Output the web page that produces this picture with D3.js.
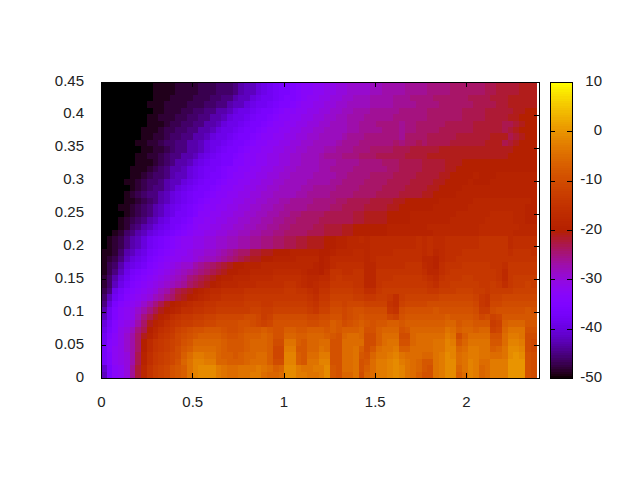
<!DOCTYPE html>
<html><head><meta charset="utf-8">
<script src="https://cdn.jsdelivr.net/npm/d3@7"></script>
<style>html,body{margin:0;padding:0;background:#fff}svg{display:block}text{font-family:"Liberation Sans",Arial,sans-serif;font-size:15px;fill:#222}</style>
</head><body><svg id="c" width="640" height="480"></svg>
<script>
const xTicks=[0,0.5,1,1.5,2];
const yTicks=[0,0.05,0.1,0.15,0.2,0.25,0.3,0.35,0.4,0.45];
const cbTicks=[-50,-40,-30,-20,-10,0,10];
const xMax=2.4,yMax=0.45,dataXMax=2.385,cMin=-50,cMax=10;
// heat values, top row first
const grid=[
[-50,-50,-50,-50,-50,-50,-50,-50,-50,-49, -49,-49,-49,-48,-48,-48,-48,-47,-47,-47, -46,-46,-46,-45,-43,-42,-42,-40,-39,-38, -37,-36,-36,-35,-34,-33,-33,-32,-32,-31, -31,-30,-30,-29,-29,-29,-29,-28,-28,-27, -27,-27,-27,-26,-26,-26,-26,-25,-25,-25, -25,-24,-24,-24,-24,-24,-24,-23,-23,-22, -22,-22,-22,-21,-21,-21],
[-50,-50,-50,-50,-50,-50,-50,-50,-50,-49, -49,-49,-49,-48,-48,-48,-48,-47,-47,-47, -46,-46,-46,-45,-43,-42,-42,-40,-39,-38, -37,-36,-36,-35,-34,-33,-33,-32,-32,-31, -31,-30,-30,-29,-29,-29,-29,-28,-28,-27, -27,-27,-27,-26,-26,-26,-26,-25,-25,-25, -25,-24,-24,-24,-24,-24,-24,-23,-23,-22, -22,-22,-22,-21,-21,-21],
[-50,-50,-50,-50,-50,-50,-50,-50,-50,-49, -49,-49,-48,-48,-48,-48,-47,-47,-47,-46, -46,-45,-45,-43,-42,-42,-40,-39,-38,-38, -37,-36,-35,-35,-34,-33,-32,-32,-31,-31, -30,-30,-29,-29,-28,-28,-28,-27,-27,-27, -27,-26,-26,-26,-25,-25,-25,-25,-24,-24, -24,-24,-24,-24,-23,-23,-23,-23,-22,-22, -22,-21,-21,-21,-21,-21],
[-50,-50,-50,-50,-50,-50,-50,-50,-49,-49, -49,-48,-48,-48,-48,-47,-47,-47,-46,-46, -45,-45,-43,-42,-42,-40,-39,-38,-38,-37, -36,-35,-35,-34,-33,-32,-32,-31,-31,-30, -30,-29,-29,-28,-28,-28,-28,-27,-27,-27, -27,-26,-26,-26,-26,-25,-25,-25,-25,-24, -24,-24,-24,-24,-24,-23,-23,-23,-23,-22, -22,-21,-21,-21,-21,-21],
[-50,-50,-50,-50,-50,-50,-50,-50,-50,-49, -49,-48,-48,-48,-47,-47,-46,-46,-45,-45, -43,-43,-42,-40,-39,-39,-38,-37,-36,-36, -35,-34,-33,-33,-32,-32,-31,-31,-30,-30, -29,-29,-28,-28,-27,-27,-27,-26,-26,-26, -26,-26,-25,-25,-25,-25,-25,-24,-24,-24, -24,-24,-24,-23,-23,-23,-23,-22,-22,-22, -22,-22,-21,-21,-20,-20],
[-50,-50,-50,-50,-50,-50,-50,-50,-49,-49, -48,-48,-48,-47,-47,-46,-46,-45,-45,-43, -43,-42,-40,-39,-39,-38,-37,-36,-36,-35, -34,-33,-33,-32,-32,-31,-31,-30,-30,-29, -29,-28,-28,-27,-27,-27,-26,-26,-26,-26, -26,-25,-25,-25,-25,-25,-25,-24,-24,-24, -24,-24,-24,-23,-23,-23,-23,-22,-22,-22, -22,-21,-21,-20,-20,-20],
[-50,-50,-50,-50,-50,-50,-50,-50,-49,-49, -49,-48,-47,-47,-46,-46,-45,-45,-43,-43, -42,-40,-39,-39,-38,-37,-36,-36,-35,-34, -33,-33,-32,-32,-31,-31,-30,-30,-29,-29, -28,-28,-28,-27,-27,-26,-26,-26,-25,-25, -25,-25,-26,-25,-25,-24,-24,-24,-24,-24, -23,-23,-23,-23,-23,-22,-22,-22,-22,-22, -23,-23,-22,-21,-20,-20],
[-50,-50,-50,-50,-50,-50,-50,-49,-49,-49, -48,-47,-47,-46,-46,-45,-45,-43,-43,-42, -40,-39,-39,-38,-37,-36,-36,-35,-34,-33, -33,-32,-32,-31,-31,-30,-30,-29,-29,-28, -28,-28,-28,-27,-27,-26,-26,-26,-26,-25, -25,-25,-26,-25,-25,-24,-24,-24,-24,-23, -23,-23,-23,-23,-23,-22,-22,-22,-22,-22, -23,-22,-21,-20,-20,-20],
[-50,-50,-50,-50,-50,-50,-50,-49,-49,-48, -48,-47,-46,-46,-45,-45,-43,-43,-42,-40, -39,-39,-38,-37,-36,-36,-35,-34,-33,-33, -32,-32,-31,-31,-30,-30,-29,-29,-28,-28, -28,-28,-27,-26,-26,-26,-25,-25,-25,-25, -25,-25,-26,-24,-24,-24,-24,-23,-23,-23, -23,-23,-22,-22,-22,-22,-22,-22,-21,-21, -21,-23,-22,-21,-20,-20],
[-50,-50,-50,-50,-50,-50,-49,-49,-48,-48, -47,-46,-46,-45,-45,-43,-43,-42,-40,-39, -39,-38,-37,-36,-36,-35,-34,-33,-33,-32, -32,-31,-31,-30,-30,-29,-29,-28,-28,-28, -28,-27,-26,-26,-26,-25,-25,-25,-25,-25, -25,-24,-25,-24,-24,-23,-24,-23,-23,-23, -23,-22,-22,-22,-22,-22,-22,-21,-21,-21, -23,-22,-21,-20,-20,-20],
[-50,-50,-50,-50,-50,-50,-50,-49,-49,-48, -48,-47,-46,-45,-45,-43,-43,-42,-40,-39, -38,-37,-36,-36,-35,-34,-33,-33,-32,-32, -31,-31,-30,-30,-29,-29,-28,-28,-28,-27, -27,-26,-26,-26,-25,-25,-25,-24,-24,-24, -24,-23,-23,-23,-22,-22,-22,-22,-22,-21, -21,-21,-21,-21,-21,-21,-21,-21,-21,-21, -21,-21,-20,-20,-20,-20],
[-50,-50,-50,-50,-50,-50,-49,-49,-48,-48, -47,-46,-45,-45,-43,-43,-42,-40,-39,-38, -37,-36,-36,-35,-34,-33,-33,-32,-32,-31, -31,-30,-30,-29,-29,-28,-28,-28,-27,-26, -26,-26,-25,-25,-25,-24,-24,-24,-23,-23, -23,-23,-23,-22,-22,-22,-22,-21,-21,-21, -21,-21,-21,-21,-21,-21,-21,-21,-21,-21, -21,-20,-20,-20,-20,-20],
[-50,-50,-50,-50,-50,-50,-49,-49,-49,-48, -47,-46,-45,-43,-43,-42,-40,-39,-38,-37, -37,-36,-36,-34,-34,-33,-33,-32,-32,-31, -31,-30,-30,-29,-29,-28,-28,-28,-27,-27, -27,-26,-26,-26,-26,-25,-25,-25,-25,-24, -24,-24,-23,-23,-23,-23,-22,-22,-22,-22, -21,-21,-21,-20,-20,-20,-20,-20,-20,-20, -20,-20,-20,-20,-20,-20],
[-50,-50,-50,-50,-50,-49,-49,-49,-48,-47, -46,-45,-43,-43,-42,-40,-39,-38,-37,-37, -36,-35,-34,-34,-33,-33,-32,-32,-31,-31, -30,-30,-29,-29,-28,-28,-28,-28,-27,-27, -26,-26,-26,-26,-25,-25,-25,-25,-25,-25, -24,-24,-23,-23,-23,-23,-22,-22,-22,-22, -21,-21,-20,-20,-20,-20,-20,-20,-20,-20, -20,-20,-20,-20,-20,-20],
[-50,-50,-50,-50,-50,-49,-49,-48,-47,-46, -46,-45,-43,-42,-42,-40,-39,-38,-37,-36, -36,-35,-34,-33,-33,-32,-32,-31,-31,-30, -30,-29,-29,-28,-28,-28,-28,-27,-27,-27, -27,-26,-26,-25,-25,-25,-25,-24,-24,-24, -24,-23,-23,-23,-23,-22,-22,-22,-22,-21, -21,-20,-20,-20,-20,-19,-20,-20,-20,-19, -19,-19,-19,-19,-19,-19],
[-50,-50,-50,-50,-49,-49,-48,-47,-46,-46, -45,-43,-42,-42,-40,-39,-38,-37,-36,-36, -35,-34,-33,-33,-32,-32,-31,-31,-30,-30, -29,-29,-28,-28,-28,-28,-27,-27,-27,-27, -26,-26,-25,-25,-25,-25,-24,-24,-24,-24, -23,-23,-23,-23,-22,-22,-22,-22,-21,-21, -20,-20,-20,-20,-19,-20,-20,-20,-19,-19, -19,-19,-19,-19,-19,-19],
[-50,-50,-50,-50,-50,-49,-48,-47,-46,-45, -45,-43,-42,-40,-39,-38,-37,-36,-36,-35, -34,-33,-33,-32,-32,-31,-31,-30,-30,-29, -29,-28,-28,-28,-28,-27,-27,-26,-26,-26, -26,-25,-25,-25,-25,-24,-24,-24,-24,-23, -23,-23,-23,-22,-22,-22,-22,-21,-21,-20, -20,-20,-20,-19,-19,-19,-19,-19,-19,-19, -19,-19,-19,-19,-19,-19],
[-50,-50,-50,-50,-49,-48,-47,-46,-45,-45, -43,-42,-40,-39,-38,-37,-36,-36,-35,-34, -33,-33,-32,-32,-31,-31,-30,-30,-29,-29, -28,-28,-28,-28,-27,-27,-26,-26,-26,-26, -25,-25,-25,-25,-24,-24,-24,-24,-23,-23, -23,-23,-22,-22,-22,-22,-21,-21,-20,-20, -20,-20,-19,-19,-19,-19,-19,-19,-19,-19, -19,-19,-19,-19,-19,-19],
[-50,-50,-50,-50,-49,-49,-48,-47,-46,-45, -43,-42,-40,-39,-38,-37,-36,-35,-34,-33, -33,-32,-32,-31,-31,-30,-30,-29,-29,-28, -28,-27,-27,-26,-26,-26,-26,-25,-25,-25, -25,-24,-24,-23,-23,-23,-23,-22,-22,-22, -22,-21,-21,-20,-20,-20,-20,-20,-20,-19, -19,-19,-19,-19,-19,-18,-18,-18,-18,-18, -18,-18,-18,-18,-18,-19],
[-50,-50,-50,-49,-49,-48,-47,-46,-45,-43, -42,-40,-39,-38,-37,-36,-35,-34,-33,-33, -32,-32,-31,-31,-30,-30,-29,-29,-28,-28, -27,-27,-26,-26,-26,-26,-25,-25,-25,-25, -24,-24,-23,-23,-23,-23,-22,-22,-22,-22, -21,-21,-20,-20,-20,-20,-20,-20,-19,-19, -19,-19,-19,-19,-18,-18,-18,-18,-18,-18, -18,-18,-18,-18,-19,-19],
[-50,-50,-50,-50,-49,-48,-47,-46,-45,-43, -42,-40,-39,-37,-37,-36,-35,-33,-33,-32, -32,-31,-31,-30,-30,-29,-29,-28,-28,-27, -27,-26,-26,-25,-25,-24,-24,-24,-24,-23, -23,-23,-23,-23,-22,-22,-21,-21,-21,-21, -20,-20,-20,-20,-19,-19,-19,-19,-19,-19, -19,-19,-18,-18,-18,-18,-18,-18,-17,-17, -17,-17,-18,-18,-19,-19],
[-50,-50,-50,-49,-48,-47,-46,-45,-43,-42, -40,-39,-37,-37,-36,-35,-33,-33,-32,-32, -31,-31,-30,-30,-29,-29,-28,-28,-27,-27, -26,-26,-25,-25,-24,-24,-24,-24,-23,-23, -23,-23,-23,-23,-22,-22,-21,-21,-21,-21, -20,-20,-20,-20,-19,-19,-19,-19,-19,-19, -19,-18,-18,-18,-18,-18,-18,-17,-17,-17, -17,-17,-18,-18,-19,-19],
[-50,-50,-50,-49,-48,-46,-45,-43,-42,-40, -39,-38,-37,-36,-35,-34,-33,-32,-32,-31, -31,-30,-30,-29,-29,-28,-28,-27,-27,-26, -26,-25,-25,-24,-24,-24,-24,-23,-23,-22, -22,-22,-21,-21,-20,-20,-20,-20,-20,-20, -19,-19,-19,-19,-19,-19,-19,-18,-18,-18, -18,-18,-18,-18,-18,-18,-17,-17,-17,-17, -17,-17,-17,-18,-18,-18],
[-50,-50,-49,-48,-46,-45,-43,-42,-40,-39, -38,-37,-36,-35,-34,-33,-32,-32,-31,-31, -30,-30,-29,-29,-28,-28,-27,-27,-26,-26, -25,-25,-24,-24,-24,-24,-23,-23,-23,-22, -22,-22,-21,-21,-20,-20,-20,-20,-20,-20, -19,-19,-19,-19,-19,-19,-19,-19,-18,-18, -18,-18,-18,-18,-18,-18,-17,-17,-17,-17, -17,-17,-18,-18,-18,-18],
[-50,-49,-48,-47,-45,-43,-42,-40,-38,-37, -36,-35,-34,-33,-32,-32,-31,-31,-30,-30, -29,-29,-28,-28,-27,-27,-26,-26,-25,-25, -24,-24,-23,-23,-22,-22,-21,-21,-21,-20, -20,-19,-19,-18,-18,-17,-18,-17,-17,-17, -17,-17,-17,-17,-17,-16,-17,-16,-17,-17, -16,-16,-16,-16,-16,-16,-15,-15,-15,-15, -15,-17,-16,-16,-16,-16],
[-50,-49,-48,-47,-45,-43,-42,-40,-38,-37, -36,-35,-34,-33,-32,-32,-31,-31,-30,-30, -29,-29,-28,-28,-27,-27,-26,-26,-25,-25, -24,-24,-23,-23,-22,-22,-21,-21,-21,-20, -20,-19,-19,-18,-18,-18,-18,-17,-17,-17, -17,-17,-17,-17,-17,-16,-17,-16,-17,-17, -16,-16,-16,-16,-16,-16,-15,-15,-15,-15, -15,-17,-16,-16,-16,-16],
[-49,-49,-48,-46,-43,-42,-40,-39,-37,-36, -35,-34,-33,-32,-32,-31,-30,-30,-29,-29, -28,-27,-26,-25,-24,-24,-22,-22,-21,-21, -20,-20,-20,-19,-19,-19,-19,-19,-20,-20, -19,-18,-18,-18,-17,-17,-18,-17,-17,-17, -17,-16,-16,-16,-16,-16,-17,-16,-18,-17, -16,-16,-16,-15,-15,-15,-15,-15,-15,-15, -15,-16,-15,-15,-15,-16],
[-49,-48,-47,-45,-42,-40,-39,-38,-36,-35, -34,-33,-32,-32,-31,-31,-30,-29,-28,-28, -27,-26,-25,-24,-23,-22,-21,-21,-20,-20, -19,-19,-19,-19,-18,-18,-18,-18,-20,-19, -17,-17,-17,-17,-17,-17,-18,-17,-16,-16, -16,-16,-16,-16,-16,-16,-18,-18,-19,-17, -16,-16,-15,-15,-15,-15,-15,-15,-15,-15, -15,-15,-15,-15,-15,-15],
[-49,-47,-46,-43,-40,-39,-38,-37,-35,-34, -33,-32,-31,-30,-29,-29,-27,-26,-25,-24, -23,-22,-21,-20,-20,-19,-19,-19,-18,-18, -18,-18,-18,-18,-18,-18,-18,-19,-20,-19, -17,-16,-16,-16,-16,-16,-18,-18,-16,-16, -16,-16,-16,-15,-15,-15,-17,-18,-19,-16, -15,-15,-15,-14,-14,-14,-14,-14,-15,-15, -16,-14,-14,-14,-14,-14],
[-49,-47,-45,-42,-39,-37,-36,-35,-34,-33, -32,-31,-30,-29,-28,-27,-26,-25,-24,-23, -22,-21,-20,-20,-19,-19,-18,-18,-18,-18, -17,-17,-17,-17,-17,-18,-19,-19,-20,-18, -15,-15,-16,-16,-15,-15,-18,-18,-15,-15, -15,-15,-15,-15,-15,-15,-16,-18,-18,-16, -15,-14,-14,-14,-14,-14,-14,-14,-14,-15, -17,-14,-14,-14,-14,-14],
[-48,-46,-43,-40,-38,-36,-35,-34,-33,-32, -31,-30,-29,-28,-27,-25,-24,-23,-22,-21, -20,-19,-19,-18,-18,-18,-17,-17,-17,-17, -16,-16,-16,-16,-16,-17,-18,-18,-17,-17, -15,-14,-15,-15,-15,-15,-18,-18,-15,-15, -15,-14,-14,-14,-14,-14,-15,-16,-17,-15, -14,-14,-14,-13,-13,-14,-14,-14,-14,-15, -17,-14,-13,-13,-13,-13],
[-48,-46,-42,-39,-37,-35,-34,-33,-32,-31, -30,-29,-28,-27,-26,-24,-23,-22,-21,-20, -19,-18,-18,-18,-17,-17,-17,-16,-16,-16, -16,-16,-15,-15,-16,-17,-18,-17,-16,-16, -14,-14,-14,-14,-15,-15,-18,-18,-15,-14, -14,-14,-14,-14,-14,-14,-14,-15,-16,-14, -14,-13,-13,-13,-13,-13,-14,-14,-13,-14, -16,-14,-13,-13,-12,-13],
[-47,-45,-39,-37,-35,-34,-33,-32,-31,-30, -28,-27,-25,-23,-22,-21,-20,-19,-18,-17, -17,-16,-16,-16,-16,-15,-15,-15,-15,-15, -15,-15,-14,-14,-15,-15,-16,-17,-15,-15, -13,-13,-13,-13,-14,-14,-16,-16,-14,-13, -13,-13,-13,-13,-13,-13,-13,-14,-14,-13, -13,-13,-12,-12,-12,-13,-13,-14,-13,-13, -13,-13,-12,-12,-12,-12],
[-46,-42,-38,-36,-34,-33,-32,-31,-30,-28, -27,-25,-24,-22,-21,-20,-19,-18,-17,-16, -16,-15,-15,-15,-15,-14,-14,-14,-14,-14, -14,-14,-14,-14,-14,-14,-15,-16,-14,-14, -12,-12,-12,-12,-13,-13,-14,-14,-13,-13, -14,-16,-13,-12,-12,-12,-12,-12,-12,-11, -11,-11,-11,-11,-11,-12,-14,-15,-12,-12, -11,-11,-11,-11,-11,-11],
[-45,-40,-36,-34,-33,-32,-31,-29,-27,-25, -23,-21,-20,-19,-18,-17,-16,-16,-15,-15, -14,-14,-14,-14,-14,-13,-13,-13,-14,-14, -13,-13,-13,-13,-13,-13,-14,-15,-13,-13, -11,-11,-12,-11,-11,-11,-12,-12,-12,-12, -15,-16,-12,-11,-11,-11,-11,-10,-10,-10, -10,-10,-10,-10,-10,-11,-14,-15,-11,-11, -10,-10,-10,-10,-10,-10],
[-43,-38,-35,-33,-32,-31,-29,-27,-25,-23, -21,-20,-19,-18,-16,-16,-15,-15,-14,-14, -13,-13,-13,-13,-13,-13,-12,-12,-13,-13, -12,-12,-12,-12,-12,-12,-13,-14,-12,-12, -10,-10,-11,-10,-9,-9,-10,-10,-10,-10, -14,-15,-10,-9,-9,-9,-9,-9,-8,-9, -9,-9,-9,-9,-9,-10,-13,-13,-10,-9, -9,-9,-9,-9,-8,-9],
[-42,-38,-35,-33,-32,-31,-28,-25,-23,-21, -19,-18,-16,-15,-14,-14,-13,-13,-12,-12, -11,-11,-11,-11,-11,-10,-10,-11,-13,-12, -10,-10,-10,-10,-10,-10,-11,-11,-10,-10, -9,-9,-11,-10,-9,-8,-9,-9,-9,-9, -11,-12,-9,-8,-8,-8,-8,-8,-8,-8, -7,-8,-8,-8,-8,-9,-11,-10,-12,-11, -8,-8,-8,-8,-8,-8],
[-40,-37,-34,-32,-31,-30,-27,-24,-21,-19, -18,-16,-15,-14,-13,-13,-12,-12,-11,-11, -10,-10,-10,-10,-9,-9,-10,-11,-12,-11, -9,-9,-9,-9,-9,-9,-10,-10,-9,-9, -7,-8,-10,-9,-8,-7,-8,-9,-8,-8, -7,-7,-8,-7,-7,-7,-7,-7,-7,-7, -6,-6,-8,-7,-7,-8,-8,-8,-13,-12, -7,-6,-6,-6,-8,-8],
[-39,-36,-34,-31,-30,-28,-25,-23,-20,-18, -16,-15,-14,-12,-11,-10,-9,-9,-8,-8, -8,-9,-10,-10,-9,-8,-8,-8,-7,-8, -9,-9,-7,-7,-8,-8,-7,-7,-7,-8, -7,-8,-7,-7,-7,-6,-9,-9,-7,-6, -6,-6,-9,-8,-6,-6,-6,-6,-6,-6, -4,-5,-7,-6,-6,-7,-6,-6,-12,-11, -6,-4,-4,-4,-9,-9],
[-38,-35,-33,-31,-29,-27,-24,-21,-19,-17, -15,-14,-13,-11,-10,-9,-8,-7,-7,-7, -7,-8,-9,-9,-8,-7,-7,-7,-6,-7, -9,-9,-6,-6,-7,-7,-6,-6,-6,-7, -8,-9,-6,-5,-5,-6,-10,-10,-7,-5, -5,-5,-10,-10,-6,-5,-5,-5,-5,-5, -3,-4,-10,-7,-5,-5,-5,-5,-9,-9, -5,-3,-3,-4,-10,-10],
[-38,-34,-33,-31,-29,-27,-24,-20,-17,-15, -14,-13,-12,-11,-9,-8,-6,-6,-6,-6, -6,-7,-8,-8,-8,-7,-6,-6,-6,-7, -10,-10,-4,-4,-7,-8,-6,-6,-5,-5, -9,-9,-5,-5,-5,-5,-10,-10,-7,-5, -4,-4,-9,-9,-6,-5,-5,-5,-4,-4, -2,-3,-8,-6,-4,-4,-4,-4,-8,-8, -5,-2,-2,-3,-10,-11],
[-37,-34,-32,-31,-29,-27,-24,-20,-17,-15, -14,-13,-12,-10,-8,-7,-5,-5,-5,-5, -6,-7,-8,-8,-8,-7,-6,-6,-6,-7, -11,-11,-3,-3,-8,-8,-6,-6,-4,-5, -9,-9,-5,-5,-4,-7,-10,-8,-5,-4, -4,-3,-7,-7,-5,-5,-5,-5,-4,-4, -2,-2,-6,-5,-3,-3,-4,-4,-7,-6, -4,-1,-1,-2,-10,-11],
[-37,-35,-32,-31,-30,-27,-23,-19,-16,-14, -13,-12,-11,-10,-7,-5,-3,-3,-4,-4, -6,-7,-7,-8,-7,-6,-6,-5,-5,-7, -11,-11,-2,-2,-7,-8,-5,-5,-3,-3, -9,-9,-5,-5,-4,-8,-9,-6,-4,-4, -3,-2,-4,-5,-5,-5,-6,-6,-4,-3, -1,-2,-5,-4,-3,-3,-4,-4,-5,-5, -4,-1,0,-1,-9,-10],
[-37,-35,-32,-31,-30,-27,-23,-19,-16,-14, -13,-12,-11,-9,-6,-4,-2,-2,-3,-3, -6,-6,-7,-7,-7,-6,-5,-5,-5,-7, -10,-10,-2,-2,-7,-8,-4,-4,-2,-2, -9,-9,-5,-5,-4,-9,-8,-5,-3,-3, -2,-1,-3,-4,-5,-6,-8,-8,-4,-3, -1,-1,-5,-4,-2,-3,-5,-5,-3,-3, -3,0,0,0,-9,-10],
[-41,-36,-33,-32,-30,-26,-22,-18,-15,-13, -12,-11,-9,-8,-7,-4,-2,-1,-1,-1, -3,-4,-5,-5,-4,-4,-4,-3,-4,-5, -7,-6,-1,-1,-3,-4,-4,-3,-3,-1, -8,-9,-5,-5,-4,-9,-7,-5,-3,-3, -2,-1,-2,-4,-5,-6,-8,-9,-4,-3, -1,-1,-6,-4,-2,-3,-6,-5,-3,-3, -3,0,0,0,-9,-10],
[-42,-36,-33,-32,-30,-26,-22,-18,-15,-13, -12,-11,-9,-8,-7,-4,-2,-1,-1,-1, -3,-4,-5,-5,-4,-4,-3,-3,-5,-6, -6,-5,-1,-1,-3,-3,-4,-4,-3,-1, -8,-9,-6,-6,-4,-10,-6,-5,-3,-3, -2,-1,-2,-4,-5,-7,-9,-9,-4,-3, -1,-1,-7,-5,-2,-3,-6,-5,-3,-3, -3,0,0,0,-9,-10]
];
const svg=d3.select("#c");
const x=d3.scaleLinear().domain([0,xMax]).range([101,539]);
const y=d3.scaleLinear().domain([0,yMax]).range([378,82]);
const cb=d3.scaleLinear().domain([cMin,cMax]).range([378,82]);
const palette=v=>{
  const t=Math.max(0,Math.min(1,(v-cMin)/(cMax-cMin)));
  return d3.rgb(255*Math.sqrt(t),255*t*t*t,255*Math.max(0,Math.sin(2*Math.PI*t)));
};
const nRows=grid.length,nCols=grid[0].length;
const dx=dataXMax/nCols,dy=yMax/nRows;
const cells=grid.flatMap((row,r)=>row.map((v,c)=>({v,x0:c*dx,x1:(c+1)*dx,y0:(nRows-1-r)*dy,y1:(nRows-r)*dy})));
svg.append("g").attr("shape-rendering","crispEdges").selectAll("rect").data(cells).join("rect")
  .attr("x",d=>x(d.x0)).attr("width",d=>x(d.x1)-x(d.x0)+0.5)
  .attr("y",d=>y(d.y1)).attr("height",d=>y(d.y0)-y(d.y1)+0.5)
  .attr("fill",d=>palette(d.v));
const bandH=(cMax-cMin)/128;
const bands=d3.range(cMin,cMax,bandH);
svg.append("g").attr("shape-rendering","crispEdges").selectAll("rect").data(bands).join("rect")
  .attr("x",550).attr("width",22)
  .attr("y",d=>cb(d+bandH)).attr("height",d=>cb(d)-cb(d+bandH)+0.5)
  .attr("fill",d=>palette(d+bandH/2));
function styleAxis(g){g.select(".domain").remove();g.selectAll(".tick line").attr("stroke","#000").attr("shape-rendering","crispEdges");}
const tf=d=>String(d);
svg.append("g").attr("transform","translate(0,378)").call(d3.axisBottom(x).tickValues(xTicks).tickFormat(tf).tickSizeInner(-5).tickSizeOuter(0).tickPadding(18)).call(styleAxis);
svg.append("g").attr("transform","translate(0,82)").call(d3.axisTop(x).tickValues(xTicks).tickFormat("").tickSizeInner(-5).tickSizeOuter(0)).call(styleAxis);
svg.append("g").attr("transform","translate(101,0)").call(d3.axisLeft(y).tickValues(yTicks).tickFormat(tf).tickSizeInner(-5).tickSizeOuter(0).tickPadding(17)).call(styleAxis);
svg.append("g").attr("transform","translate(539,0)").call(d3.axisRight(y).tickValues(yTicks).tickFormat("").tickSizeInner(-5).tickSizeOuter(0)).call(styleAxis);
svg.append("g").attr("transform","translate(550,0)").call(d3.axisLeft(cb).tickValues(cbTicks).tickFormat("").tickSizeInner(-5).tickSizeOuter(0)).call(styleAxis);
const cbR=svg.append("g").attr("transform","translate(572,0)").call(d3.axisRight(cb).tickValues(cbTicks).tickFormat(tf).tickSizeInner(-5).tickSizeOuter(0).tickPadding(0)).call(styleAxis);
cbR.selectAll("text").attr("text-anchor","end").attr("x",30);
svg.selectAll("g text").attr("font-size",null).attr("font-family",null).attr("dy","0.2em");
svg.selectAll("g text").filter(function(){return this.parentNode.parentNode.getAttribute("transform")==="translate(0,378)";}).attr("dy","0.71em");
[[101,82,438,296],[550,82,22,296]].forEach(b=>svg.append("rect").attr("x",b[0]+0.5).attr("y",b[1]+0.5).attr("width",b[2]).attr("height",b[3]).attr("fill","none").attr("stroke","#000").attr("shape-rendering","crispEdges"));
</script></body></html>
